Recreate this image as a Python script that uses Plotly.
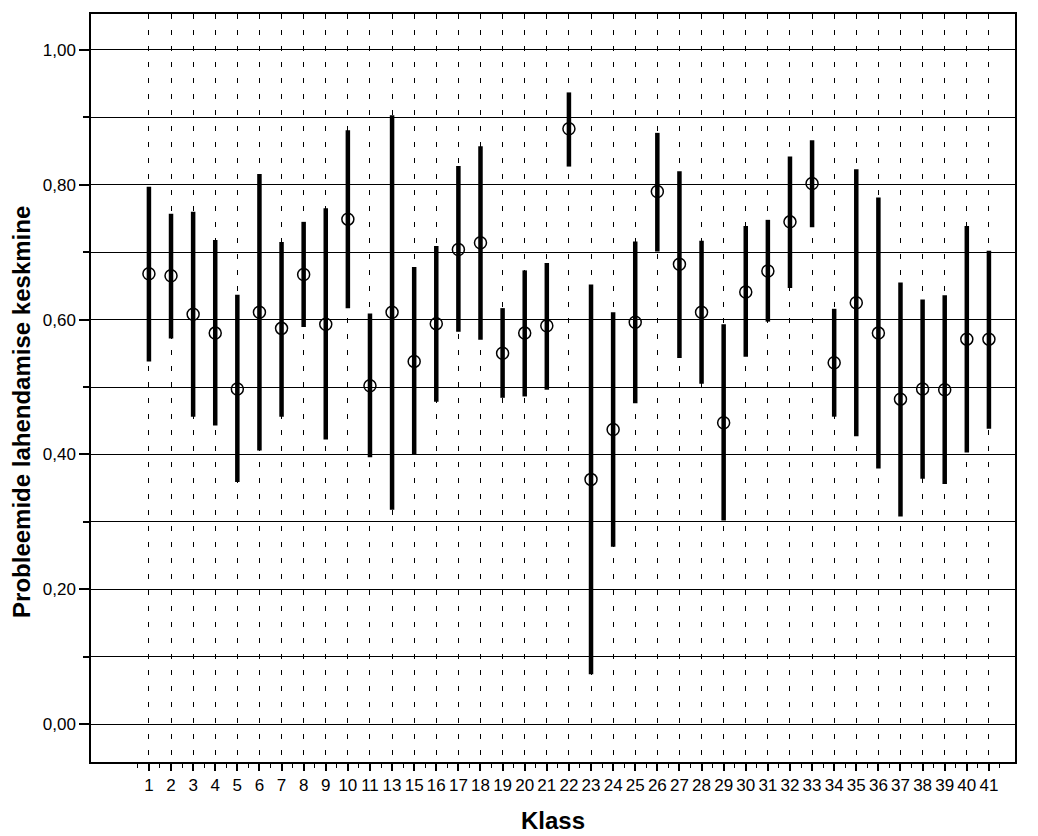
import plotly.graph_objects as go

klass = ["1", "2", "3", "4", "5", "6", "7", "8", "9", "10", "11", "13", "15", "16", "17", "18",
         "19", "20", "21", "22", "23", "24", "25", "26", "27", "28", "29", "30", "31", "32",
         "33", "34", "35", "36", "37", "38", "39", "40", "41"]
mean = [0.668, 0.665, 0.608, 0.580, 0.497, 0.611, 0.587, 0.667, 0.593, 0.749, 0.502, 0.611,
        0.538, 0.594, 0.704, 0.714, 0.550, 0.580, 0.591, 0.883, 0.363, 0.437, 0.596, 0.790,
        0.682, 0.611, 0.447, 0.641, 0.672, 0.745, 0.802, 0.536, 0.625, 0.580, 0.482, 0.497,
        0.496, 0.571, 0.571]
upper = [0.797, 0.757, 0.760, 0.718, 0.637, 0.816, 0.715, 0.745, 0.765, 0.881, 0.609, 0.903,
         0.678, 0.709, 0.828, 0.857, 0.617, 0.673, 0.684, 0.937, 0.652, 0.611, 0.716, 0.877,
         0.820, 0.717, 0.593, 0.739, 0.748, 0.842, 0.866, 0.616, 0.823, 0.781, 0.655, 0.630,
         0.636, 0.739, 0.702]
lower = [0.538, 0.572, 0.456, 0.443, 0.359, 0.406, 0.456, 0.589, 0.422, 0.617, 0.396, 0.318,
         0.399, 0.478, 0.582, 0.570, 0.484, 0.486, 0.496, 0.827, 0.074, 0.263, 0.476, 0.701,
         0.543, 0.505, 0.302, 0.545, 0.597, 0.647, 0.737, 0.456, 0.427, 0.379, 0.308, 0.364,
         0.356, 0.403, 0.438]

pos = list(range(len(klass)))
err_plus = [u - m for u, m in zip(upper, mean)]
err_minus = [m - l for m, l in zip(mean, lower)]

y_major = [0.0, 0.2, 0.4, 0.6, 0.8, 1.0]
y_labels = ["0,00", "0,20", "0,40", "0,60", "0,80", "1,00"]
y_minor = [0.1, 0.3, 0.5, 0.7, 0.9]
x_minor = [p - 0.5 for p in pos] + [pos[-1] + 0.5]

fig = go.Figure()
fig.add_trace(go.Scatter(
    x=pos, y=mean, mode="markers",
    marker=dict(symbol="circle-open", size=12, color="black", line=dict(width=1.5, color="black")),
    error_y=dict(type="data", symmetric=False, array=err_plus, arrayminus=err_minus,
                 color="black", thickness=4.5, width=0),
    showlegend=False,
))

font = "Liberation Sans, Arial, sans-serif"
fig.update_layout(
    width=1038, height=836,
    margin=dict(l=91, r=23, t=12, b=74),
    paper_bgcolor="white", plot_bgcolor="white",
    font=dict(family=font, size=17, color="black"),
    xaxis=dict(
        range=[-2.62, 39.18],
        tickmode="array", tickvals=pos, ticktext=klass,
        ticks="outside", ticklen=7, tickwidth=1.5, tickcolor="black",
        showgrid=True, gridcolor="black", gridwidth=1, griddash="5px,11px",
        showline=True, linecolor="black", linewidth=1.5, mirror=True,
        zeroline=False,
        tickfont=dict(family=font, size=17, color="black"),
        minor=dict(tickmode="array", tickvals=x_minor, ticks="outside", ticklen=4,
                   tickwidth=1.2, tickcolor="black", showgrid=False),
    ),
    yaxis=dict(
        range=[-0.0562, 1.0533],
        tickmode="array", tickvals=y_major, ticktext=y_labels,
        ticks="outside", ticklen=10, tickwidth=1.5, tickcolor="black",
        showgrid=True, gridcolor="black", gridwidth=1.2,
        showline=True, linecolor="black", linewidth=1.5, mirror=True,
        zeroline=False,
        tickfont=dict(family=font, size=17, color="black"),
        minor=dict(tickmode="array", tickvals=y_minor, ticks="outside", ticklen=6,
                   tickwidth=1.5, tickcolor="black", showgrid=True, gridcolor="black",
                   gridwidth=1.2),
    ),
    annotations=[
        dict(text="<b>Klass</b>", xref="paper", yref="paper", x=0.5, y=0,
             yshift=-58, xanchor="center", yanchor="middle", showarrow=False,
             font=dict(family=font, size=24, color="black")),
        dict(text="<b>Probleemide lahendamise keskmine</b>", xref="paper", yref="paper",
             x=0, y=0.468, xshift=-69, xanchor="center", yanchor="middle", textangle=-90,
             showarrow=False, font=dict(family=font, size=24, color="black")),
    ],
)

fig.write_html("out.html")
